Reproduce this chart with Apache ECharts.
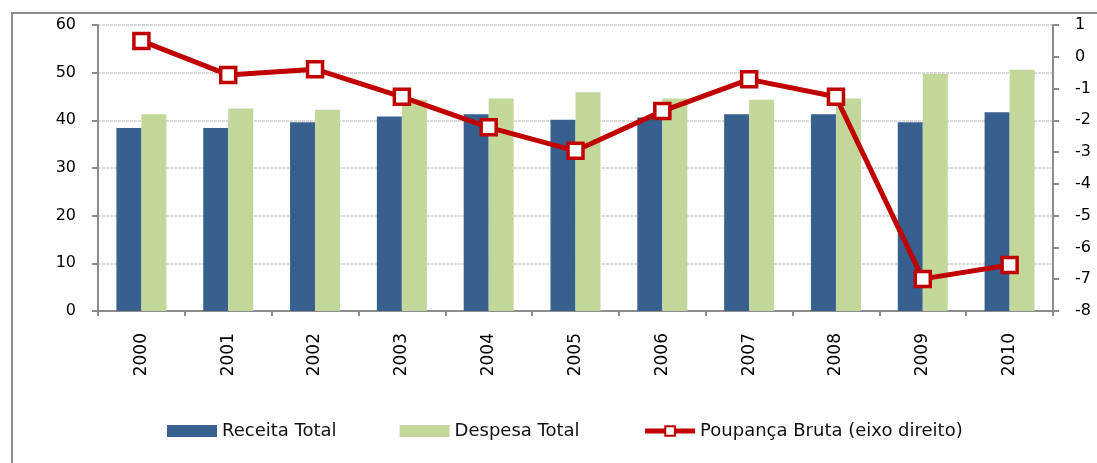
<!DOCTYPE html>
<html>
<head>
<meta charset="utf-8">
<script src="https://cdn.jsdelivr.net/npm/echarts@6/dist/echarts.min.js"></script>
<style>
html,body{margin:0;padding:0;background:#fff;}
#c{width:1097px;height:463px;}
</style>
</head>
<body>
<div id="c"></div>
<script>
const years = ['2000','2001','2002','2003','2004','2005','2006','2007','2008','2009','2010'];
const receitaTotal = [38.4, 38.4, 39.6, 40.8, 41.3, 40.1, 40.6, 41.3, 41.3, 39.6, 41.7];
const despesaTotal = [41.3, 42.5, 42.2, 44.3, 44.6, 45.9, 44.6, 44.3, 44.6, 49.7, 50.6];
const poupancaBruta = [0.5, -0.57, -0.39, -1.26, -2.22, -2.96, -1.71, -0.71, -1.26, -6.99, -6.55];
const leftTicks = {min: 0, max: 60, interval: 10};
const rightTicks = {min: -8, max: 1, interval: 1};

const FONT = "'DejaVu Sans', sans-serif";
const axisGray = '#8c8c8c';
const chart = echarts.init(document.getElementById('c'), null, {renderer: 'canvas'});
chart.setOption({
  animation: false,
  backgroundColor: '#fff',
  textStyle: {fontFamily: FONT, color: '#000'},
  graphic: [{
    type: 'rect', silent: true, z: -1,
    shape: {x: 12, y: 13, width: 1120, height: 480},
    style: {fill: 'none', stroke: axisGray, lineWidth: 2}
  }],
  grid: {left: 98, right: 44, top: 25, bottom: 152, containLabel: false},
  legend: {
    top: 417, left: 162,
    itemWidth: 50, itemHeight: 12, itemGap: 63,
    textStyle: {fontFamily: FONT, fontSize: 18, color: '#111'},
    data: [
      {name: 'Receita Total', icon: 'rect'},
      {name: 'Despesa Total', icon: 'rect'},
      {name: 'Poupança Bruta (eixo direito)', lineStyle: {width: 5}}
    ]
  },
  xAxis: {
    type: 'category', data: years,
    axisLine: {lineStyle: {color: axisGray, width: 2}},
    axisTick: {show: true, alignWithLabel: false, length: 5, lineStyle: {color: axisGray, width: 2}},
    axisLabel: {rotate: 90, margin: 22, fontSize: 17, color: '#000', fontFamily: FONT}
  },
  yAxis: [{
    type: 'value', position: 'left', ...leftTicks,
    axisLine: {show: true, lineStyle: {color: axisGray, width: 2}},
    axisTick: {show: true, length: 6, lineStyle: {color: axisGray, width: 2}},
    axisLabel: {fontSize: 16, color: '#000', margin: 22, fontFamily: FONT},
    splitLine: {show: true, lineStyle: {color: '#d9d9d9', width: 2, type: [3, 1]}}
  }, {
    type: 'value', position: 'right', ...rightTicks,
    axisLine: {show: true, lineStyle: {color: axisGray, width: 2}},
    axisTick: {show: true, length: 6, lineStyle: {color: axisGray, width: 2}},
    axisLabel: {fontSize: 16, color: '#000', margin: 22, fontFamily: FONT},
    splitLine: {show: false}
  }],
  series: [{
    name: 'Receita Total', type: 'bar', data: receitaTotal,
    barWidth: 25, barGap: '0%',
    itemStyle: {color: '#37608f'}
  }, {
    name: 'Despesa Total', type: 'bar', data: despesaTotal,
    barWidth: 25, barGap: '0%',
    itemStyle: {color: '#c4d79b'}
  }, {
    name: 'Poupança Bruta (eixo direito)', type: 'line', yAxisIndex: 1,
    data: poupancaBruta,
    symbol: 'rect', symbolSize: 15,
    lineStyle: {color: '#c00000', width: 5},
    itemStyle: {color: '#fff', borderColor: '#c00000', borderWidth: 3.5},
    z: 5
  }]
});
</script>
</body>
</html>
